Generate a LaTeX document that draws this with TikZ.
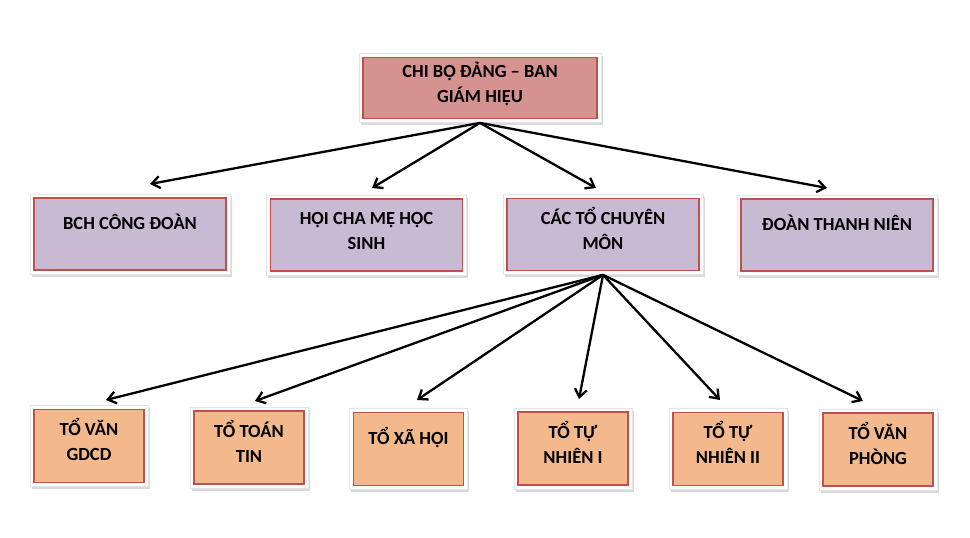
\documentclass[tikz,border=0pt]{standalone}
\usepackage{fontspec}
\setmainfont{Carlito}
\usetikzlibrary{arrows.meta,shadows}
\definecolor{boxline}{RGB}{190,80,77}
\definecolor{leadfill}{RGB}{214,146,145}
\definecolor{unitfill}{RGB}{201,186,212}
\definecolor{teamfill}{RGB}{243,185,140}

\begin{document}
\begin{tikzpicture}[x=1pt,y=-1pt,>={Straight Barb[length=8pt,width=12pt]}]
  \useasboundingbox (0,0) rectangle (970,538);
  \tikzset{box/.style={fill=white,draw=black!10,line width=0.8pt,inner sep=0pt,align=center,
      font=\fontsize{18.5}{25}\selectfont\bfseries,
      text height=39pt,text depth=10pt,
      drop shadow={opacity=0.3,shadow xshift=1.5pt,shadow yshift=-2.5pt},
      path picture={\draw[boxline,line width=1.2pt,fill=#1]
        ([shift={(4pt,4pt)}]path picture bounding box.south west) rectangle
        ([shift={(-4pt,-4pt)}]path picture bounding box.north east);}}}
  \tikzstyle{oneline}=[text height=14pt,text depth=24pt]
  \tikzstyle{lead}=[box=leadfill,minimum width=242pt,minimum height=69pt]
  \tikzstyle{unit}=[box=unitfill,minimum width=200pt,minimum height=80pt]
  \tikzstyle{team}=[box=teamfill,minimum width=118pt,minimum height=81pt]
  \tikzstyle{arrow}=[->,line width=2.3pt]
  % lanh dao
  \node[lead] (chibo) at (480,88) {CHI BỘ ĐẢNG – BAN\\GIÁM HIỆU};
  % cac doan the
  \node[unit,oneline] (bch) at (130,234) {BCH CÔNG ĐOÀN};
  \node[unit] (hoicmhs) at (366.5,235) {HỘI CHA MẸ HỌC\\SINH};
  \node[unit] (cacto) at (603,234.5) {CÁC TỔ CHUYÊN\\MÔN};
  \node[unit,oneline] (doantn) at (837,235) {ĐOÀN THANH NIÊN};
  % cac to
  \node[team] (tovan) at (89,446) {TỔ VĂN\\GDCD};
  \node[team] (totoan) at (249,447.5) {TỔ TOÁN\\TIN};
  \node[team,oneline] (toxahoi) at (408.5,449) {TỔ XÃ HỘI};
  \node[team] (totn1) at (573,448.5) {TỔ TỰ\\NHIÊN I};
  \node[team] (totn2) at (728,449) {TỔ TỰ\\NHIÊN II};
  \node[team] (tovp) at (878,449.5) {TỔ VĂN\\PHÒNG};
  % dau mui ten
  \coordinate (inBch) at (150,184);
  \coordinate (inHoi) at (372,188);
  \coordinate (inCac) at (596,188);
  \coordinate (inDoan) at (827,188);
  \coordinate (inVan) at (106,400);
  \coordinate (inToan) at (255,401);
  \coordinate (inXaHoi) at (417,400);
  \coordinate (inTn1) at (579,399);
  \coordinate (inTn2) at (720,400);
  \coordinate (inVp) at (863,401);
  \draw[arrow] (chibo.south) -- (inBch);
  \draw[arrow] (chibo.south) -- (inHoi);
  \draw[arrow] (chibo.south) -- (inCac);
  \draw[arrow] (chibo.south) -- (inDoan);
  \draw[arrow] (cacto.south) -- (inVan);
  \draw[arrow] (cacto.south) -- (inToan);
  \draw[arrow] (cacto.south) -- (inXaHoi);
  \draw[arrow] (cacto.south) -- (inTn1);
  \draw[arrow] (cacto.south) -- (inTn2);
  \draw[arrow] (cacto.south) -- (inVp);
\end{tikzpicture}
\end{document}
